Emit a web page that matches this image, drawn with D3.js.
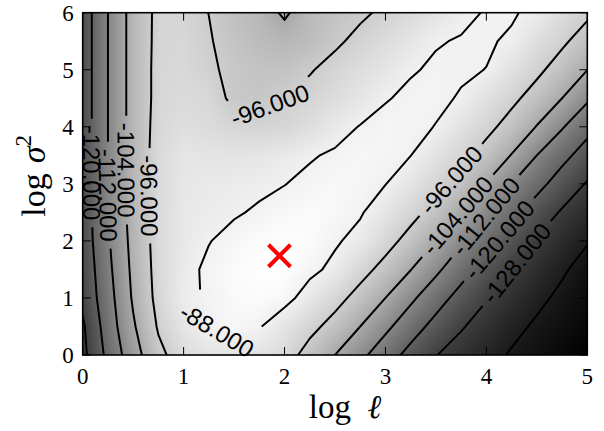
<!DOCTYPE html>
<html>
<head>
<meta charset="utf-8">
<script src="https://cdn.jsdelivr.net/npm/d3@7"></script>
<style>
  html, body { margin: 0; padding: 0; background: #fff; }
  svg { display: block; }
</style>
</head>
<body>
<svg id="chart" width="604" height="431"></svg>
<script>
// Log marginal likelihood surface over log lengthscale and log signal variance.
const logEll = [0, 0.25, 0.5, 0.75, 1, 1.25, 1.5, 1.75, 2, 2.25, 2.5, 2.75, 3, 3.25, 3.5, 3.75, 4, 4.25, 4.5, 4.75, 5];
const logSigma2 = [0, 0.5, 1, 1.5, 2, 2.5, 3, 3.5, 4, 4.5, 5, 5.5, 6];

// one row per logSigma2 value (bottom to top), one column per logEll value
const logLik = [
  [-130, -118, -107.3, -97.7, -92.5, -91.0, -90.7, -91.2, -93.0, -98.6, -104, -110.1, -116.4, -122.4, -127.8, -130.9, -133.9, -136.6, -138.4, -140.2, -142],
  [-129.1, -116.2, -104.9, -95.3, -90.7, -87.9, -86.6, -87.7, -90.8, -94.1, -98.4, -104, -110.3, -116.6, -122.4, -127.4, -130.9, -134.3, -136.9, -138.7, -140.5],
  [-126.2, -115.1, -103.1, -93.9, -89.0, -87.5, -86.1, -85.6, -86.6, -89.9, -93.7, -98.4, -104, -110.5, -116.9, -122.6, -127.6, -131.2, -134.6, -137.3, -139.5],
  [-125.6, -113.9, -102.3, -93.5, -89.3, -87.2, -85.8, -85.0, -84.8, -87.0, -89.0, -93.6, -98.2, -103.8, -110.4, -117.1, -122.9, -128.1, -131.6, -135.2, -138.3],
  [-124.7, -112.9, -101.6, -93.25, -89.9, -88.15, -86.8, -85.7, -85.2, -85.6, -87.5, -89.3, -93.6, -98.3, -104, -110.9, -117.25, -123.2, -128.6, -132.1, -135.6],
  [-124.5, -112, -101.0, -93.2, -90.0, -89.2, -88.4, -87.5, -86.4, -85.8, -86.4, -87.6, -90.45, -93.9, -98.35, -104.3, -111.4, -117.6, -123.5, -128.8, -132.3],
  [-124.5, -112, -101.0, -93.2, -90.2, -89.7, -89.3, -88.8, -88.1, -87.0, -86.4, -86.8, -87.9, -90.75, -94.0, -98.35, -104.3, -112, -117.7, -123.3, -128.6],
  [-124.5, -112, -101.0, -93.2, -90.6, -90.8, -90.9, -90.6, -89.6, -88.4, -87.4, -86.7, -87.1, -87.95, -91.0, -94.1, -98.35, -104.3, -112, -117.9, -123.2],
  [-124.5, -112, -101.0, -93.6, -92.1, -92.8, -94.0, -94.5, -94.0, -92.3, -89.7, -87.8, -87.1, -87.2, -88.1, -91.15, -94.25, -98.5, -104.3, -111.4, -117.75],
  [-124.5, -112, -101.0, -94.0, -92.9, -93.5, -97.2, -97.3, -95.8, -94.3, -92.5, -90.5, -88.2, -87.4, -87.4, -88.25, -91.4, -94.5, -98.7, -104, -110.9],
  [-124.5, -112, -101.0, -94.0, -93.5, -95.2, -97.2, -98.4, -98.2, -96.4, -94.3, -92.3, -90.6, -88.25, -87.6, -87.6, -88.05, -91.4, -94.6, -98.9, -103.9],
  [-124.5, -112, -101.0, -94.2, -93.8, -95.6, -98.0, -99.9, -101.0, -99.7, -96.9, -94.6, -92.6, -90.6, -88.2, -87.8, -87.6, -88.5, -92.0, -94.9, -99.0],
  [-124.5, -112, -101.0, -94.3, -94.1, -96.05, -99.0, -100.8, -105, -100.3, -98.5, -96.9, -95.0, -93.0, -91.0, -88.7, -87.8, -87.6, -89.0, -92.5, -94.8]
];

const contourLevels = [-136, -128, -120, -112, -104, -96, -88];
const xTicks = [0, 1, 2, 3, 4, 5];
const yTicks = [0, 1, 2, 3, 4, 5, 6];
const optimum = [1.95, 1.74]; // [log ell, log sigma^2] of the best hyperparameters

// where each inline contour label sits (data coordinates, snapped onto its line)
const labelSpots = [
  { level: -88,  at: [1.32, 0.38] },
  { level: -96,  at: [1.84, 4.42] },
  { level: -96,  at: [0.63, 2.79] },
  { level: -104, at: [0.42, 3.24] },
  { level: -112, at: [0.25, 2.80] },
  { level: -120, at: [0.09, 3.19] },
  { level: -96,  at: [3.68, 3.02] },
  { level: -104, at: [3.71, 2.45] },
  { level: -112, at: [4.04, 2.36] },
  { level: -120, at: [4.14, 2.00] },
  { level: -128, at: [4.29, 1.62] }
];

// ---------------------------------------------------------------------------
const box = { left: 82.7, right: 587.3, top: 12.7, bottom: 355 };
const svg = d3.select('#chart');

const x = d3.scaleLinear().domain(d3.extent(logEll)).range([box.left, box.right]);
const y = d3.scaleLinear().domain(d3.extent(logSigma2)).range([box.bottom, box.top]);

const nx = logEll.length, ny = logSigma2.length;
const flat = logLik.flat();
const gray = d3.scaleLinear().domain(d3.extent(flat)).range([0, 255]).clamp(true);

svg.append('defs').append('clipPath').attr('id', 'plotClip')
  .append('rect')
  .attr('x', box.left).attr('y', box.top)
  .attr('width', box.right - box.left).attr('height', box.bottom - box.top);

// ---- grey background image, bilinearly shaded between grid nodes ----
(function drawImage() {
  const pw = Math.round(box.right - box.left), ph = Math.round(box.bottom - box.top);
  const canvas = document.createElement('canvas');
  canvas.width = pw; canvas.height = ph;
  const ctx = canvas.getContext('2d');
  const img = ctx.createImageData(pw, ph);
  const fxScale = d3.scaleLinear().domain(d3.extent(logEll)).range([0, nx - 1]).clamp(true);
  const fyScale = d3.scaleLinear().domain(d3.extent(logSigma2)).range([0, ny - 1]).clamp(true);
  for (let j = 0; j < ph; j++) {
    const dy = y.invert(box.top + (j + 0.5) * (box.bottom - box.top) / ph);
    const fy = fyScale(dy);
    const j0 = Math.min(Math.floor(fy), ny - 2), ty = fy - j0;
    for (let i = 0; i < pw; i++) {
      const dx = x.invert(box.left + (i + 0.5) * (box.right - box.left) / pw);
      const fx = fxScale(dx);
      const i0 = Math.min(Math.floor(fx), nx - 2), tx = fx - i0;
      const v = (1 - tx) * (1 - ty) * logLik[j0][i0] + tx * (1 - ty) * logLik[j0][i0 + 1]
              + (1 - tx) * ty * logLik[j0 + 1][i0] + tx * ty * logLik[j0 + 1][i0 + 1];
      const g = Math.round(gray(v));
      const k = 4 * (j * pw + i);
      img.data[k] = g; img.data[k + 1] = g; img.data[k + 2] = g; img.data[k + 3] = 255;
    }
  }
  ctx.putImageData(img, 0, 0);
  svg.append('image')
    .attr('x', box.left).attr('y', box.top)
    .attr('width', box.right - box.left).attr('height', box.bottom - box.top)
    .attr('preserveAspectRatio', 'none')
    .attr('href', canvas.toDataURL());
})();

// ---- contour lines ----
const contours = d3.contours().size([nx, ny]).thresholds(contourLevels)(flat);
// d3 places sample k at grid coordinate k + 0.5
const gx = d3.scaleLinear().domain([0.5, nx - 0.5]).range(d3.extent(logEll));
const gy = d3.scaleLinear().domain([0.5, ny - 0.5]).range(d3.extent(logSigma2));

const rings = [];
contours.forEach(c => {
  c.coordinates.forEach(poly => poly.forEach(ring => {
    const pts = ring.map(([a, b]) => [x(gx(a)), y(gy(b))]);
    const S = [0];
    for (let i = 1; i < pts.length; i++) {
      S.push(S[i - 1] + Math.hypot(pts[i][0] - pts[i - 1][0], pts[i][1] - pts[i - 1][1]));
    }
    rings.push({ level: c.value, pts, S, total: S[S.length - 1], cuts: [] });
  }));
});

function pointAt(r, s) {
  s = ((s % r.total) + r.total) % r.total;
  let i = d3.bisectRight(r.S, s) - 1;
  i = Math.max(0, Math.min(i, r.pts.length - 2));
  const seg = r.S[i + 1] - r.S[i];
  const t = seg > 0 ? (s - r.S[i]) / seg : 0;
  const a = r.pts[i], b = r.pts[i + 1];
  return [a[0] + t * (b[0] - a[0]), a[1] + t * (b[1] - a[1])];
}

function nearestOn(r, p) {
  let best = { d: Infinity, s: 0 };
  for (let i = 0; i < r.pts.length - 1; i++) {
    const a = r.pts[i], b = r.pts[i + 1];
    const vx = b[0] - a[0], vy = b[1] - a[1];
    const len2 = vx * vx + vy * vy;
    let t = len2 ? ((p[0] - a[0]) * vx + (p[1] - a[1]) * vy) / len2 : 0;
    t = Math.max(0, Math.min(1, t));
    const d = Math.hypot(p[0] - (a[0] + t * vx), p[1] - (a[1] + t * vy));
    if (d < best.d) best = { d, s: r.S[i] + t * Math.sqrt(len2) };
  }
  return best;
}

// split a closed ring into open pieces, leaving out the label gaps
function ringPieces(r) {
  if (!r.cuts.length) return [r.pts];
  const T = r.total;
  const start = r.cuts[0][1];
  const norm = s => (((s - start) % T) + T) % T;
  const iv = r.cuts.map(([a, b]) => { const u = norm(a); return [u, u + (b - a)]; })
    .sort((p, q) => p[0] - q[0]);
  const verts = [];
  for (let i = 0; i < r.pts.length - 1; i++) verts.push({ u: norm(r.S[i]), p: r.pts[i] });
  verts.sort((p, q) => p.u - q.u);
  const keep = [];
  let cur = 0;
  iv.forEach(([a, b]) => { if (a > cur) keep.push([cur, a]); cur = Math.max(cur, b); });
  if (cur < T) keep.push([cur, T]);
  return keep.map(([a, b]) => {
    const pts = [pointAt(r, start + a)];
    verts.forEach(v => { if (v.u > a && v.u < b) pts.push(v.p); });
    pts.push(pointAt(r, start + b));
    return pts;
  });
}

// ---- inline labels (placed first so their gaps can be cut) ----
const labelFont = 24;
const labelPad = 7;
const labelLayer = svg.append('g').attr('class', 'clabels');

labelSpots.forEach(spot => {
  const p = [x(spot.at[0]), y(spot.at[1])];
  let best = null;
  rings.filter(r => r.level === spot.level).forEach(r => {
    const n = nearestOn(r, p);
    if (!best || n.d < best.n.d) best = { r, n };
  });
  if (!best) return;
  const t = labelLayer.append('text')
    .text(spot.level.toFixed(3))
    .attr('font-family', '"Liberation Sans", Arial, Helvetica, sans-serif')
    .attr('font-size', labelFont)
    .attr('text-anchor', 'middle')
    .attr('dy', '0.36em')
    .attr('fill', '#000');
  const w = t.node().getComputedTextLength();
  const s0 = best.n.s;
  const c = pointAt(best.r, s0);
  const p1 = pointAt(best.r, s0 - w / 2), p2 = pointAt(best.r, s0 + w / 2);
  let ang = Math.atan2(p2[1] - p1[1], p2[0] - p1[0]) * 180 / Math.PI;
  if (ang > 100) ang -= 180;
  if (ang <= -80) ang += 180;
  t.attr('transform', `translate(${c[0]},${c[1]}) rotate(${ang})`);
  best.r.cuts.push([s0 - w / 2 - labelPad, s0 + w / 2 + labelPad]);
});

const line = d3.line();
const lineLayer = svg.insert('g', '.clabels').attr('clip-path', 'url(#plotClip)');
rings.forEach(r => {
  ringPieces(r).forEach(pts => {
    lineLayer.append('path')
      .attr('d', line(pts))
      .attr('fill', 'none')
      .attr('stroke', '#000')
      .attr('stroke-width', 2)
      .attr('stroke-linejoin', 'round')
      .attr('stroke-linecap', 'butt');
  });
});

// ---- optimum marker ----
const mx = x(optimum[0]), my = y(optimum[1]), arm = 11;
svg.append('path')
  .attr('d', `M${mx - arm},${my - arm}L${mx + arm},${my + arm}M${mx - arm},${my + arm}L${mx + arm},${my - arm}`)
  .attr('stroke', '#ff0000')
  .attr('stroke-width', 4)
  .attr('fill', 'none');

// ---- frame and inward ticks ----
const axisLayer = svg.append('g').attr('stroke', '#000');
const tickLen = 8;
xTicks.forEach(v => {
  axisLayer.append('line').attr('x1', x(v)).attr('x2', x(v)).attr('y1', box.bottom).attr('y2', box.bottom - tickLen).attr('stroke-width', 1);
  axisLayer.append('line').attr('x1', x(v)).attr('x2', x(v)).attr('y1', box.top).attr('y2', box.top + tickLen).attr('stroke-width', 1);
});
yTicks.forEach(v => {
  axisLayer.append('line').attr('x1', box.left).attr('x2', box.left + tickLen).attr('y1', y(v)).attr('y2', y(v)).attr('stroke-width', 1);
  axisLayer.append('line').attr('x1', box.right).attr('x2', box.right - tickLen).attr('y1', y(v)).attr('y2', y(v)).attr('stroke-width', 1);
});
axisLayer.append('rect')
  .attr('x', box.left).attr('y', box.top)
  .attr('width', box.right - box.left).attr('height', box.bottom - box.top)
  .attr('fill', 'none').attr('stroke-width', 1.6);

const serif = '"Liberation Serif", "Times New Roman", serif';
svg.append('g').selectAll('text').data(xTicks).join('text')
  .attr('x', d => x(d)).attr('y', box.bottom + 29)
  .attr('text-anchor', 'middle')
  .attr('font-family', serif).attr('font-size', 23)
  .text(d => d);
svg.append('g').selectAll('text').data(yTicks).join('text')
  .attr('x', box.left - 9).attr('y', d => y(d)).attr('dy', '0.34em')
  .attr('text-anchor', 'end')
  .attr('font-family', serif).attr('font-size', 23)
  .text(d => d);

// axis titles
const xt = svg.append('text')
  .attr('x', 345).attr('y', 418)
  .attr('text-anchor', 'middle')
  .attr('font-family', serif).attr('font-size', 33);
xt.append('tspan').text('log');
xt.append('tspan').attr('dx', '0.5em').attr('font-style', 'italic').text('ℓ');

const yt = svg.append('text')
  .attr('transform', `translate(45,${(box.top + box.bottom) / 2 - 8}) rotate(-90)`)
  .attr('text-anchor', 'middle')
  .attr('font-family', serif).attr('font-size', 34);
yt.append('tspan').text('log');
yt.append('tspan').attr('dx', '0.3em').attr('font-style', 'italic').text('σ');
yt.append('tspan').attr('font-size', 23).attr('dy', '-0.62em').text('2');
</script>
</body>
</html>
